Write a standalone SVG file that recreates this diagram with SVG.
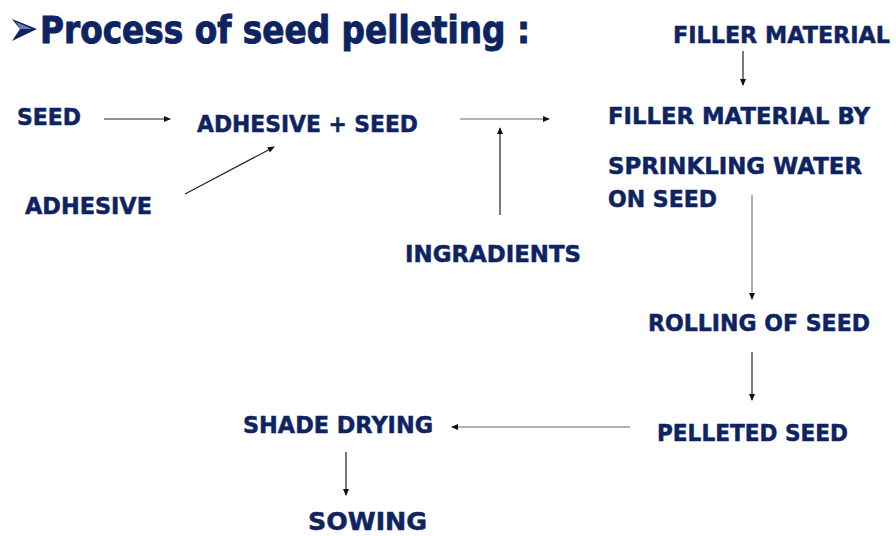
<svg xmlns="http://www.w3.org/2000/svg" width="896" height="536" viewBox="0 0 896 536">
<style>
.t{font-family:"DejaVu Sans","Verdana",sans-serif;font-weight:bold;fill:#0e2462;stroke:#0e2462;stroke-width:0.5;font-size:23px}
.h{font-size:37px;stroke-width:1}
.s{font-size:24px}
.ln{stroke:#222;stroke-width:1.2;fill:none}
.lg{stroke:#9a9a9a;stroke-width:1.5;fill:none}
</style>
<defs>
<marker id="ah" viewBox="0 0 8 8" refX="7" refY="4" markerWidth="7" markerHeight="7" markerUnits="userSpaceOnUse" orient="auto">
<path d="M0,0.5 L8,4 L0,7.5 Z" fill="#111"/>
</marker>
</defs>
<rect width="896" height="536" fill="#fff"/>
<g id="title">
<polygon points="12,19 37,29 12,41 20,29" fill="#0e2462"/>
<polygon points="16,22 32,29 20,29" fill="#6d7fb0"/>
<text class="t h" x="40" y="43" textLength="490" lengthAdjust="spacingAndGlyphs">Process of seed pelleting :</text>
</g>
<g id="n-seed"><text class="t" x="17" y="125" textLength="64" lengthAdjust="spacingAndGlyphs">SEED</text></g>
<g id="n-adhseed"><text class="t" x="197" y="132" textLength="221" lengthAdjust="spacingAndGlyphs">ADHESIVE + SEED</text></g>
<g id="n-adhesive"><text class="t" x="25" y="214" textLength="127" lengthAdjust="spacingAndGlyphs">ADHESIVE</text></g>
<g id="n-ingr"><text class="t" x="405" y="262" textLength="176" lengthAdjust="spacingAndGlyphs">INGRADIENTS</text></g>
<g id="n-filler"><text class="t" x="673" y="43" textLength="217" lengthAdjust="spacingAndGlyphs">FILLER MATERIAL</text></g>
<g id="n-fillerby">
<text class="t" x="608" y="124" textLength="262" lengthAdjust="spacingAndGlyphs">FILLER MATERIAL BY</text>
<text class="t" x="608" y="174" textLength="254" lengthAdjust="spacingAndGlyphs">SPRINKLING WATER</text>
<text class="t" x="608" y="207" textLength="109" lengthAdjust="spacingAndGlyphs">ON SEED</text>
</g>
<g id="n-rolling"><text class="t" x="648" y="331" textLength="222" lengthAdjust="spacingAndGlyphs">ROLLING OF SEED</text></g>
<g id="n-pelleted"><text class="t" x="657" y="441" textLength="191" lengthAdjust="spacingAndGlyphs">PELLETED SEED</text></g>
<g id="n-shade"><text class="t" x="243" y="433" textLength="190" lengthAdjust="spacingAndGlyphs">SHADE DRYING</text></g>
<g id="n-sowing"><text class="t s" x="308" y="530" textLength="119" lengthAdjust="spacingAndGlyphs">SOWING</text></g>
<g id="connectors">
<line class="ln" x1="104" y1="119" x2="170" y2="119" marker-end="url(#ah)"/>
<line class="ln" x1="185" y1="194" x2="274" y2="147" marker-end="url(#ah)"/>
<line class="lg" x1="460" y1="119" x2="549" y2="119" marker-end="url(#ah)"/>
<line class="ln" x1="500" y1="215" x2="500" y2="128" marker-end="url(#ah)"/>
<line class="ln" x1="743" y1="51" x2="743" y2="85" marker-end="url(#ah)"/>
<line class="lg" x1="752" y1="195" x2="752" y2="299" marker-end="url(#ah)"/>
<line class="ln" x1="752" y1="352" x2="752" y2="400" marker-end="url(#ah)"/>
<line class="lg" x1="630" y1="427" x2="452" y2="427" marker-end="url(#ah)"/>
<line class="ln" x1="346" y1="452" x2="346" y2="495" marker-end="url(#ah)"/>
</g>
</svg>
